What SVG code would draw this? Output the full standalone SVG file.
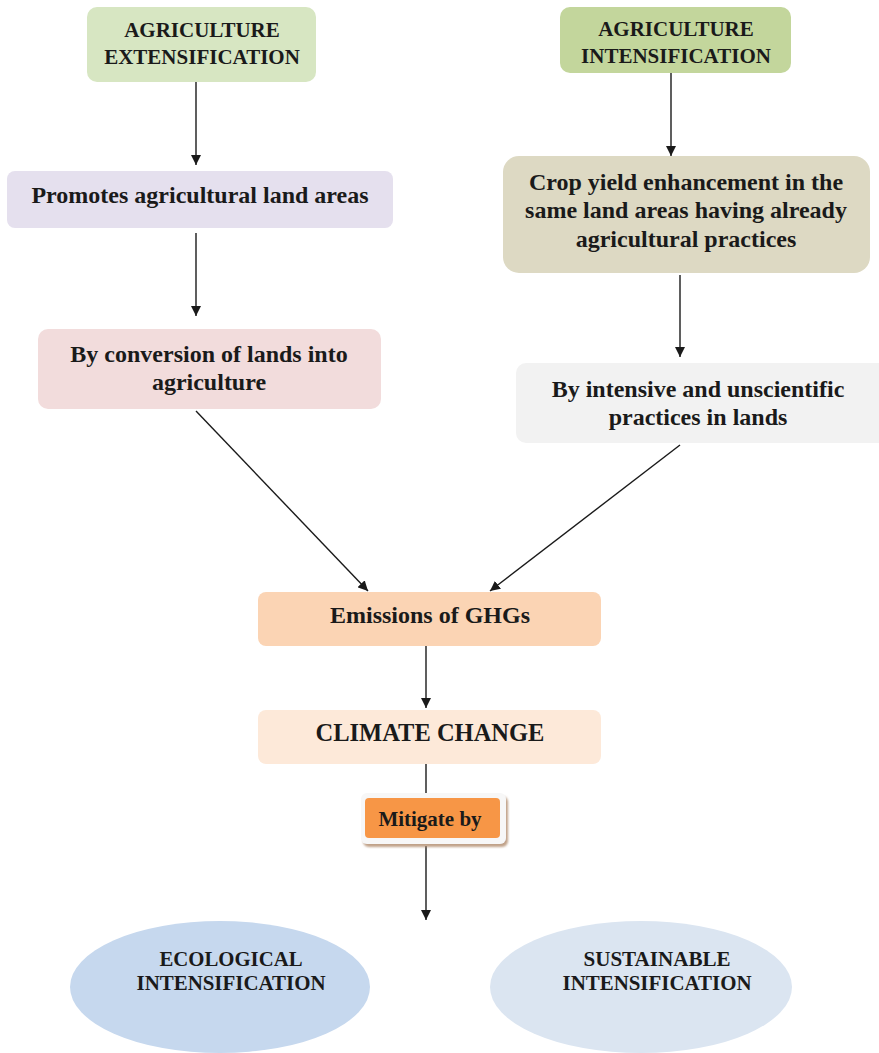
<svg xmlns="http://www.w3.org/2000/svg" width="879" height="1053" viewBox="0 0 879 1053">
  <defs>
    <marker id="arrow" viewBox="0 0 10 10" refX="10" refY="5" markerWidth="10" markerHeight="10" markerUnits="userSpaceOnUse" orient="auto">
      <path d="M0,0 L10,5 L0,10 z" fill="#1a1a1a"/>
    </marker>
    <filter id="shadow" x="-20%" y="-20%" width="150%" height="160%">
      <feDropShadow dx="2" dy="3" stdDeviation="1" flood-color="#b08a6a" flood-opacity="0.8"/>
    </filter>
  </defs>
  <style>
    text { font-family: "Liberation Serif", "Times New Roman", serif; font-weight: bold; fill: #1a1a1a; text-anchor: middle; }
    .title { font-size: 21px; }
    .body { font-size: 24px; }
    .big { font-size: 24.5px; }
    .small { font-size: 21px; }
    .cond { font-size: 20px; }
    .conn { stroke: #1a1a1a; stroke-width: 1.4; fill: none; }
  </style>
  <rect width="879" height="1053" fill="#ffffff"/>

  <g id="connectors">
    <line class="conn" x1="196" y1="82" x2="196" y2="165" marker-end="url(#arrow)"/>
    <line class="conn" x1="196" y1="233" x2="196" y2="316" marker-end="url(#arrow)"/>
    <line class="conn" x1="671" y1="73" x2="671" y2="156" marker-end="url(#arrow)"/>
    <line class="conn" x1="680" y1="275" x2="680" y2="357" marker-end="url(#arrow)"/>
    <line class="conn" x1="196" y1="411" x2="368" y2="591" marker-end="url(#arrow)"/>
    <line class="conn" x1="680" y1="445" x2="490" y2="591" marker-end="url(#arrow)"/>
    <line class="conn" x1="426" y1="646" x2="426" y2="708" marker-end="url(#arrow)"/>
    <line class="conn" x1="426" y1="764" x2="426" y2="795"/>
    <line class="conn" x1="426" y1="846" x2="426" y2="920" marker-end="url(#arrow)"/>
  </g>

  <g id="agri-extensification">
    <rect x="87" y="7" width="229" height="75" rx="10" fill="#d7e6c2"/>
    <text class="title" x="202" y="37">AGRICULTURE</text>
    <text class="title" x="202" y="64">EXTENSIFICATION</text>
  </g>

  <g id="promotes-land">
    <rect x="7" y="171" width="386" height="57" rx="8" fill="#e5e0ee"/>
    <text class="body" x="200" y="203">Promotes agricultural land areas</text>
  </g>

  <g id="conversion">
    <rect x="38" y="329" width="343" height="80" rx="10" fill="#f2dcdc"/>
    <text class="body" x="209" y="362">By conversion of lands into</text>
    <text class="body" x="209" y="390">agriculture</text>
  </g>

  <g id="agri-intensification">
    <rect x="560" y="7" width="231" height="66" rx="10" fill="#c3d69c"/>
    <text class="title" x="676" y="36">AGRICULTURE</text>
    <text class="title" x="676" y="63">INTENSIFICATION</text>
  </g>

  <g id="crop-yield">
    <rect x="503" y="156" width="367" height="117" rx="16" fill="#ddd9c3"/>
    <text class="body" x="686" y="190">Crop yield enhancement in the</text>
    <text class="body" x="686" y="218">same land areas having already</text>
    <text class="body" x="686" y="247">agricultural practices</text>
  </g>

  <g id="intensive-practices">
    <rect x="516" y="363" width="375" height="80" rx="10" fill="#f2f2f2"/>
    <text class="body" x="698" y="397">By intensive and unscientific</text>
    <text class="body" x="698" y="425">practices in lands</text>
  </g>

  <g id="emissions">
    <rect x="258" y="592" width="343" height="54" rx="8" fill="#fbd4b4"/>
    <text class="body" x="430" y="623">Emissions of GHGs</text>
  </g>

  <g id="climate-change">
    <rect x="258" y="710" width="343" height="54" rx="8" fill="#fde9d9"/>
    <text class="big" x="430" y="741">CLIMATE CHANGE</text>
  </g>

  <g id="mitigate">
    <rect x="361" y="793" width="145" height="51" rx="6" fill="#f7f7f7" filter="url(#shadow)"/>
    <rect x="365" y="798" width="135" height="40" rx="4" fill="#f79646"/>
    <text class="small" x="430" y="826">Mitigate by</text>
  </g>

  <g id="ecological">
    <ellipse cx="220" cy="987" rx="150" ry="66" fill="#c6d8ee"/>
    <text class="cond" x="231" y="966" textLength="143" lengthAdjust="spacingAndGlyphs">ECOLOGICAL</text>
    <text class="cond" x="231" y="990" textLength="189" lengthAdjust="spacingAndGlyphs">INTENSIFICATION</text>
  </g>

  <g id="sustainable">
    <ellipse cx="641" cy="987" rx="151" ry="66" fill="#dbe5f1"/>
    <text class="cond" x="657" y="966" textLength="147" lengthAdjust="spacingAndGlyphs">SUSTAINABLE</text>
    <text class="cond" x="657" y="990" textLength="189" lengthAdjust="spacingAndGlyphs">INTENSIFICATION</text>
  </g>
</svg>
